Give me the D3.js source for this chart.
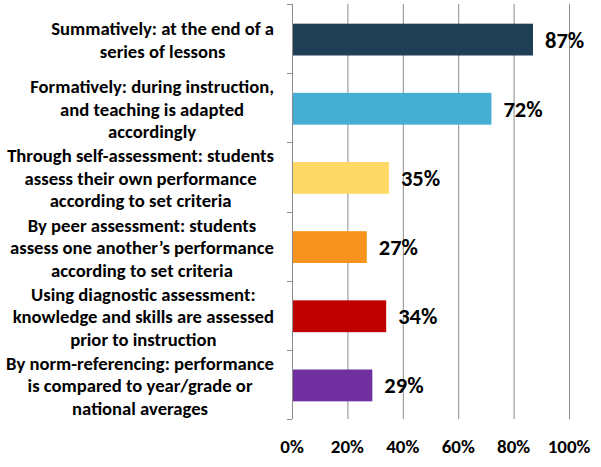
<!DOCTYPE html>
<html>
<head>
<meta charset="utf-8">
<script src="https://cdn.jsdelivr.net/npm/d3@7"></script>
<style>
  body { margin: 0; background: #fff; }
  text { font-family: Carlito, Lato, "Open Sans", sans-serif; font-weight: bold; fill: #000; }
</style>
</head>
<body>
<div id="chart"></div>
<script>
// chart values
const categories = [
  ["Summatively: at the end of a", "series of lessons"],
  ["Formatively: during instruction,", "and teaching is adapted", "accordingly"],
  ["Through self-assessment: students", "assess their own performance", "according to set criteria"],
  ["By peer assessment: students", "assess one another\u2019s performance", "according to set criteria"],
  ["Using diagnostic assessment:", "knowledge and skills are assessed", "prior to instruction"],
  ["By norm-referencing: performance", "is compared to year/grade or", "national averages"]
];
const values = [0.87, 0.72, 0.35, 0.27, 0.34, 0.29];
const colors = ["#1f4054", "#46add3", "#ffd966", "#f7931e", "#c00000", "#7030a0"];
const tickValues = [0, 0.2, 0.4, 0.6, 0.8, 1.0];

const width = 601, height = 467;

const svg = d3.select("#chart").append("svg")
  .attr("width", width)
  .attr("height", height);

const x = d3.scaleLinear().domain([0, 1]).range([292, 569]);
const y = d3.scaleBand()
  .domain(d3.range(categories.length))
  .range([4, 419])
  .paddingInner(0.54)
  .paddingOuter(0.27);

// gridlines (no line at 0, the axis is drawn there)
svg.append("g").selectAll("line")
  .data(tickValues.slice(1))
  .join("line")
  .attr("x1", d => x(d) + 0.5).attr("x2", d => x(d) + 0.5)
  .attr("y1", 4).attr("y2", 419)
  .attr("stroke", "#8c8c8c").attr("stroke-width", 1);

// category axis line and separator ticks
const bounds = d3.range(categories.length + 1).map(i => 4 + i * (415 / categories.length));
svg.append("line")
  .attr("x1", x(0) + 0.5).attr("x2", x(0) + 0.5)
  .attr("y1", 4).attr("y2", 419)
  .attr("stroke", "#8c8c8c");
svg.append("g").selectAll("line")
  .data(bounds)
  .join("line")
  .attr("x1", x(0) - 5).attr("x2", x(0))
  .attr("y1", d => Math.round(d) + 0.5).attr("y2", d => Math.round(d) + 0.5)
  .attr("stroke", "#8c8c8c");

// bars
svg.append("g").selectAll("rect")
  .data(values)
  .join("rect")
  .attr("x", x(0) + 1)
  .attr("y", (d, i) => y(i) + 1)
  .attr("width", d => x(d) - x(0) - 1)
  .attr("height", y.bandwidth())
  .attr("fill", (d, i) => colors[i]);

// value labels
svg.append("g").selectAll("text")
  .data(values)
  .join("text")
  .attr("x", d => x(d) + 12)
  .attr("y", (d, i) => y(i) + 1 + y.bandwidth() / 2 + 8)
  .style("font-size", "22.5px")
  .text(d => Math.round(d * 100) + "%");

// x tick labels
svg.append("g").selectAll("text")
  .data(tickValues)
  .join("text")
  .attr("x", d => x(d))
  .attr("y", 453)
  .attr("text-anchor", "middle")
  .style("font-size", "19px")
  .text(d => Math.round(d * 100) + "%");

// category labels: lines centred on each other, block right-aligned to the axis
const labelG = svg.append("g").style("font-size", "16px");
const lineH = 22.5;
let widest = 0;
const groups = categories.map((lines, i) => {
  const g = labelG.append("g");
  const cy = y(i) + 1 + y.bandwidth() / 2 + 1;
  const ts = lines.map((t, j) => g.append("text")
    .attr("text-anchor", "middle")
    .attr("y", cy + (j - (lines.length - 1) / 2) * lineH + 6)
    .text(t));
  ts.forEach(t => { widest = Math.max(widest, t.node().getComputedTextLength()); });
  return ts;
});
// scale the font so the longest line fills the same room as in the original
const fs = 16 * 268 / widest;
labelG.style("font-size", fs + "px");
groups.forEach(ts => {
  const w = d3.max(ts, t => t.node().getComputedTextLength());
  ts.forEach(t => t.attr("x", 274 - w / 2));
});
</script>
</body>
</html>
